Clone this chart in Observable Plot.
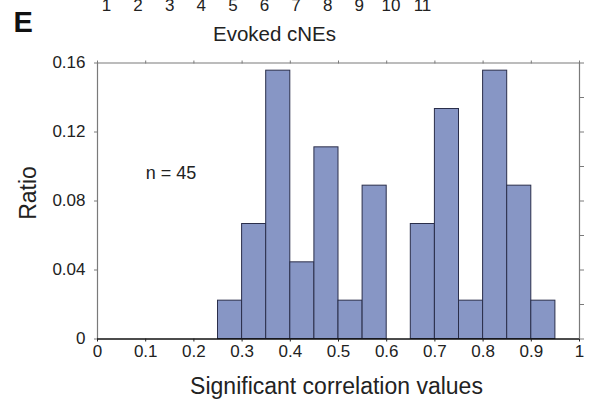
<!DOCTYPE html>
<html>
<head>
<meta charset="utf-8">
<script src="https://cdn.jsdelivr.net/npm/d3@7"></script>
<script src="https://cdn.jsdelivr.net/npm/@observablehq/plot@0.6"></script>
<style>
  html, body { margin: 0; padding: 0; background: white; }
  #fig { position: relative; width: 590px; height: 400px; overflow: hidden; font-family: "Liberation Sans", Arial, sans-serif; }
  #fig > div, #fig > svg { position: absolute; left: 0; top: 0; }
</style>
</head>
<body>
<div id="fig"></div>
<script>
// Histogram of significant correlation values for evoked cNEs
const binStart = [0.25, 0.30, 0.35, 0.40, 0.45, 0.50, 0.55, 0.60, 0.65, 0.70, 0.75, 0.80, 0.85, 0.90];
const binWidth = 0.05;
const counts   = [1, 3, 7, 2, 5, 1, 4, 0, 3, 6, 1, 7, 4, 1];
const n = 45;

const xTicks = [0, 0.1, 0.2, 0.3, 0.4, 0.5, 0.6, 0.7, 0.8, 0.9, 1];
const yTicks = [0, 0.04, 0.08, 0.12, 0.16];
const yMinorTicks = [0, 0.02, 0.04, 0.06, 0.08, 0.1, 0.12, 0.14, 0.16];

// cNE indices from the panel above (only the lower part shows)
const cneIndex = [1, 2, 3, 4, 5, 6, 7, 8, 9, 10, 11];

const bins = binStart
  .map((x1, i) => ({x1, x2: x1 + binWidth, ratio: counts[i] / n}))
  .filter(d => d.ratio > 0);

const fmt = d3.format("~g");
const blank = () => "";
const font = "Liberation Sans, Arial, sans-serif";
const grey = "#7a7a7a";

const chart = Plot.plot({
  width: 590,
  height: 400,
  marginLeft: 97,
  marginRight: 11,
  marginTop: 62.5,
  marginBottom: 61.5,
  style: {fontFamily: font, fontSize: "17px", color: "#222", background: "white", overflow: "visible"},
  x: {domain: [0, 1]},
  y: {domain: [0, 0.16]},
  marks: [
    Plot.rectY(bins, {x1: "x1", x2: "x2", y: "ratio", fill: "#8796c5", stroke: "#2a2e4a", strokeWidth: 1}),
    Plot.ruleY([0.16], {stroke: grey, strokeWidth: 1.2}),
    Plot.ruleX([0], {stroke: grey, strokeWidth: 1.2}),
    Plot.ruleX([1], {stroke: grey, strokeWidth: 1.2}),
    Plot.ruleY([0], {stroke: "#111", strokeWidth: 1.3}),
    Plot.axisX({anchor: "bottom", ticks: xTicks, tickFormat: fmt, tickSize: 3, tickPadding: 3, stroke: "#222", label: null, fontSize: 17}),
    Plot.axisX({anchor: "top", ticks: xTicks, tickFormat: blank, tickSize: 3, stroke: grey, label: null}),
    Plot.axisY({anchor: "left", ticks: yTicks, tickFormat: fmt, tickSize: 3, tickPadding: 9, stroke: grey, label: null, fontSize: 17}),
    Plot.axisY({anchor: "right", ticks: yMinorTicks, tickFormat: blank, tickSize: 4, stroke: grey, label: null}),
    Plot.text(["Significant correlation values"], {frameAnchor: "bottom", lineAnchor: "bottom", dx: -2, dy: 55, fontSize: 23, fill: "#222"}),
    Plot.text(["Ratio"], {frameAnchor: "left", rotate: -90, textAnchor: "middle", lineAnchor: "bottom", dx: -62, dy: -8, fontSize: 23, fill: "#222"}),
    Plot.text([`n = ${n}`], {x: 0.1, y: 0.093, textAnchor: "start", lineAnchor: "bottom", fontSize: 18, fill: "#222"}),
    Plot.text(["Evoked cNEs"], {frameAnchor: "top-left", textAnchor: "middle", lineAnchor: "bottom", dx: 177, dy: -22.5, fontSize: 20.5, fill: "#222"}),
    Plot.text(["E"], {frameAnchor: "top-left", textAnchor: "start", lineAnchor: "bottom", dx: -84, dy: -31, fontSize: 29, fontWeight: "bold", fill: "#111"})
  ]
});

// strip of index labels at the very top
const strip = Plot.plot({
  width: 590,
  height: 9,
  marginTop: 0,
  marginBottom: 0,
  marginLeft: 106,
  marginRight: 168,
  style: {fontFamily: font, fontSize: "17px", color: "#222", background: "transparent", overflow: "visible"},
  x: {domain: [1, 11], axis: null},
  marks: [
    Plot.text(cneIndex, {x: d => d, frameAnchor: "bottom", lineAnchor: "bottom", dy: 1, fontSize: 17, fill: "#222"})
  ]
});

const fig = document.getElementById("fig");
fig.appendChild(chart);
fig.appendChild(strip);
</script>
</body>
</html>
